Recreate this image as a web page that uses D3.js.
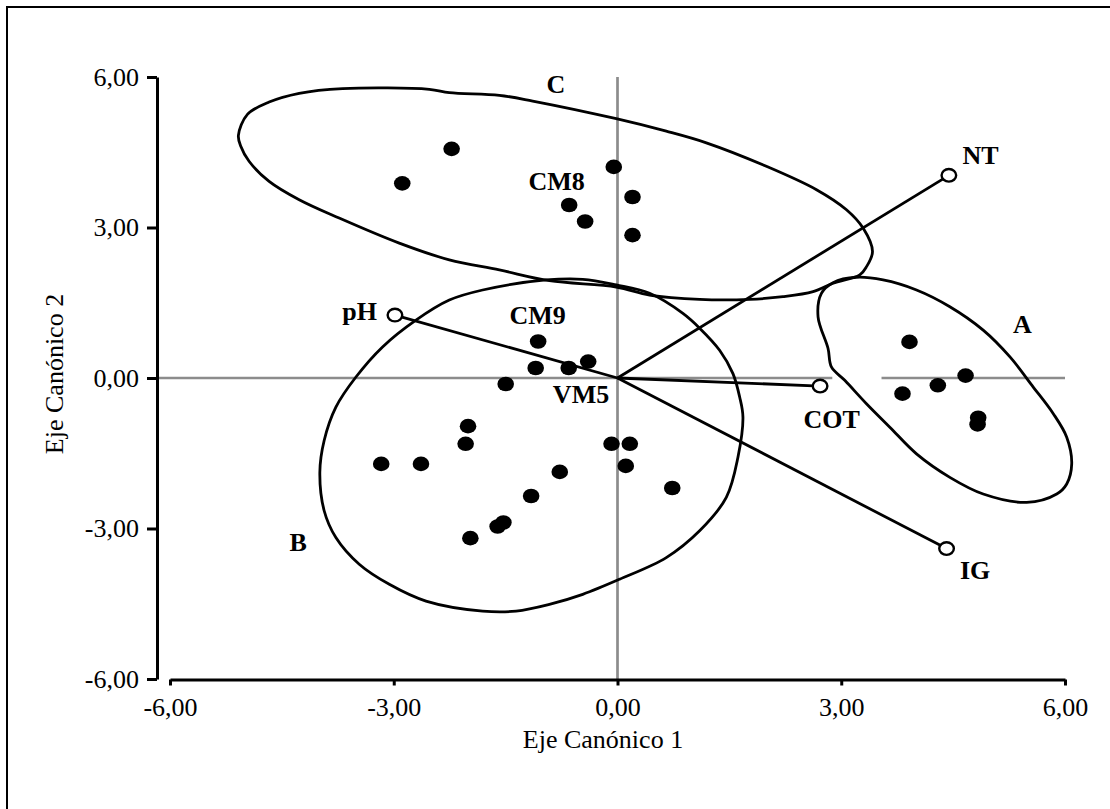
<!DOCTYPE html>
<html lang="es">
<head>
<meta charset="UTF-8">
<title>Eje Canónico 1 vs Eje Canónico 2</title>
<script src="https://d3js.org/d3.v7.min.js"></script>
<style>
    body { margin: 0; background: #fff; }
    svg { display: block; font-family: "Times New Roman", "Liberation Serif", serif; }
    .axis path, .axis line { stroke: #000; stroke-width: 3px; fill: none; }
    .axis text { font-size: 26px; fill: #000; font-family: "Times New Roman", "Liberation Serif", serif; }
    .ref-line { stroke: #8c8c8c; stroke-width: 2.7px; }
    .hull { fill: none; stroke: #000; stroke-width: 2.8px; }
    .vector { stroke: #000; stroke-width: 2.8px; }
    .obs { fill: #000; }
    .var-end { fill: #fff; stroke: #000; stroke-width: 2.4px; }
    .lbl { font-size: 26px; font-weight: bold; fill: #000; text-anchor: middle; }
    .axis-title { font-size: 26px; fill: #000; text-anchor: middle; }
</style>
</head>
<body>
<div id="chart"></div>
<script>
// --- data ---
const tickValues = [-6, -3, 0, 3, 6];

// observations (canonical scores), by group
const groupA = [[3.915, 0.72], [4.667, 0.048], [4.295, -0.146], [3.821, -0.312], [4.836, -0.792], [4.828, -0.926]];
const groupB = [[-1.064, 0.728], [-1.097, 0.2], [-0.654, 0.2], [-0.393, 0.328], [-1.499, -0.12],
    [-2.004, -0.96], [-2.036, -1.312], [-3.168, -1.712], [-2.635, -1.712], [-0.08, -1.312],
    [0.165, -1.312], [0.111, -1.752], [-0.774, -1.872], [-1.158, -2.352], [0.734, -2.192],
    [-1.53, -2.88], [-1.607, -2.96], [-1.973, -3.192]];
const groupC = [[-2.224, 4.568], [-2.886, 3.88], [-0.05, 4.208], [-0.648, 3.448], [-0.434, 3.12], [0.201, 3.608], [0.201, 2.848]];

// variable vectors (from origin)
const varNames = ["NT", "pH", "COT", "IG"];
const varX = [4.443, -2.984, 2.716, 4.412];
const varY = [4.04, 1.254, -0.16, -3.4];

// group outlines
const hullA = [[2.89, 1.9], [3.204, 2.008], [3.561, 1.954], [4.009, 1.754], [4.456, 1.42], [4.903, 0.954],
    [5.262, 0.42], [5.574, -0.18], [5.843, -0.712], [6.023, -1.18], [6.09, -1.712], [6.023, -2.112],
    [5.889, -2.312], [5.486, -2.48], [4.903, -2.312], [4.456, -1.98], [4.009, -1.512], [3.651, -0.98],
    [3.338, -0.512], [3.047, -0.046], [2.868, 0.22], [2.823, 0.588], [2.689, 1.22], [2.734, 1.688]];
const hullB = [[-0.957, 1.954], [-0.466, 1.968], [-0.017, 1.854], [0.43, 1.688], [0.877, 1.288], [1.101, 0.994],
    [1.369, 0.554], [1.548, 0.088], [1.638, -0.38], [1.682, -0.78], [1.615, -1.58], [1.459, -2.38],
    [1.101, -3.046], [0.654, -3.58], [0.027, -4.012], [-0.466, -4.312], [-0.913, -4.512], [-1.36, -4.646],
    [-1.808, -4.646], [-2.568, -4.446], [-3.06, -4.112], [-3.463, -3.712], [-3.776, -3.18], [-3.933, -2.646],
    [-3.991, -1.88], [-3.933, -1.246], [-3.776, -0.58], [-3.507, 0.02], [-3.15, 0.62], [-2.702, 1.154],
    [-2.255, 1.554], [-1.808, 1.754]];
const hullC = [[-5.083, 4.834], [-4.962, 5.254], [-4.671, 5.5], [-4.268, 5.674], [-3.687, 5.768], [-2.523, 5.754],
    [-2.255, 5.688], [-1.584, 5.634], [-1.137, 5.52], [-0.017, 5.168], [0.654, 4.92], [1.191, 4.688],
    [1.996, 4.22], [2.668, 3.754], [3.07, 3.354], [3.293, 2.988], [3.419, 2.52], [3.339, 2.22],
    [3.248, 2.054], [2.89, 1.888], [2.622, 1.72], [2.219, 1.62], [1.772, 1.568], [1.101, 1.568],
    [0.43, 1.654], [-0.017, 1.814], [-0.913, 1.94], [-1.584, 2.154], [-2.255, 2.354], [-2.926, 2.688],
    [-3.732, 3.188], [-4.268, 3.554], [-4.671, 3.92], [-4.94, 4.32], [-5.051, 4.62]];

// break in the horizontal reference line (x range)
const refGap = [2.88, 3.54];

// annotation labels
const labelText = ["C", "NT", "CM8", "A", "CM9", "pH", "VM5", "B", "COT", "IG"];
const labelX = [-0.827, 4.867, -0.815, 5.43, -1.07, -3.457, -0.489, -4.28, 2.872, 4.794];
const labelY = [5.86, 4.43, 3.92, 1.07, 1.24, 1.32, -0.333, -3.275, -0.823, -3.83];

// --- chart setup ---
const W = 1110, H = 809;
const svg = d3.select("#chart").append("svg").attr("width", W).attr("height", H);

// outer frame (top + left visible)
svg.append("path").attr("d", "M7,809V7H1110").attr("fill", "none").attr("stroke", "#000").attr("stroke-width", 2);

const x = d3.scaleLinear().domain([-6, 6]).range([170, 1065]);
const y = d3.scaleLinear().domain([-6, 6]).range([679, 77]);
const yAxisX = 157, xAxisY = 679.5;
const fmt = d => d.toFixed(2).replace(".", ",");

// reference lines through origin
svg.append("line").attr("class", "ref-line")
    .attr("x1", x(0)).attr("x2", x(0)).attr("y1", y(6)).attr("y2", y(-6));
svg.append("line").attr("class", "ref-line")
    .attr("x1", yAxisX).attr("x2", x(refGap[0])).attr("y1", y(0)).attr("y2", y(0));
svg.append("line").attr("class", "ref-line")
    .attr("x1", x(refGap[1])).attr("x2", x(6)).attr("y1", y(0)).attr("y2", y(0));

// axes
svg.append("g").attr("class", "axis")
    .attr("transform", `translate(0,${xAxisY})`)
    .call(d3.axisBottom(x).tickValues(tickValues).tickFormat(fmt).tickSizeInner(6).tickSizeOuter(0).tickPadding(12));
svg.append("g").attr("class", "axis")
    .attr("transform", `translate(${yAxisX},0)`)
    .call(d3.axisLeft(y).tickValues(tickValues).tickFormat(fmt).tickSizeInner(10).tickSizeOuter(0).tickPadding(8));

svg.append("text").attr("class", "axis-title").attr("x", 603).attr("y", 748).text("Eje Canónico 1");
svg.append("text").attr("class", "axis-title")
    .attr("transform", "rotate(-90)").attr("x", -374).attr("y", 63).text("Eje Canónico 2");

// group outlines
const hullLine = d3.line().x(d => x(d[0])).y(d => y(d[1])).curve(d3.curveCatmullRomClosed.alpha(0.5));
svg.selectAll(".hull").data([hullA, hullB, hullC]).join("path")
    .attr("class", "hull").attr("d", hullLine);

// variable vectors
svg.selectAll(".vector").data(varNames).join("line").attr("class", "vector")
    .attr("x1", x(0)).attr("y1", y(0))
    .attr("x2", (d, i) => x(varX[i])).attr("y2", (d, i) => y(varY[i]));

// observations
const obs = groupA.concat(groupB, groupC);
svg.selectAll(".obs").data(obs).join("ellipse").attr("class", "obs")
    .attr("cx", d => x(d[0])).attr("cy", d => y(d[1])).attr("rx", 8.3).attr("ry", 7.3);

svg.selectAll(".var-end").data(varNames).join("ellipse").attr("class", "var-end")
    .attr("cx", (d, i) => x(varX[i])).attr("cy", (d, i) => y(varY[i])).attr("rx", 7.3).attr("ry", 6.3);

// labels
svg.selectAll(".lbl").data(labelText).join("text").attr("class", "lbl")
    .attr("x", (d, i) => x(labelX[i])).attr("y", (d, i) => y(labelY[i]))
    .attr("dy", "0.33em").text(d => d);
</script>
</body>
</html>
